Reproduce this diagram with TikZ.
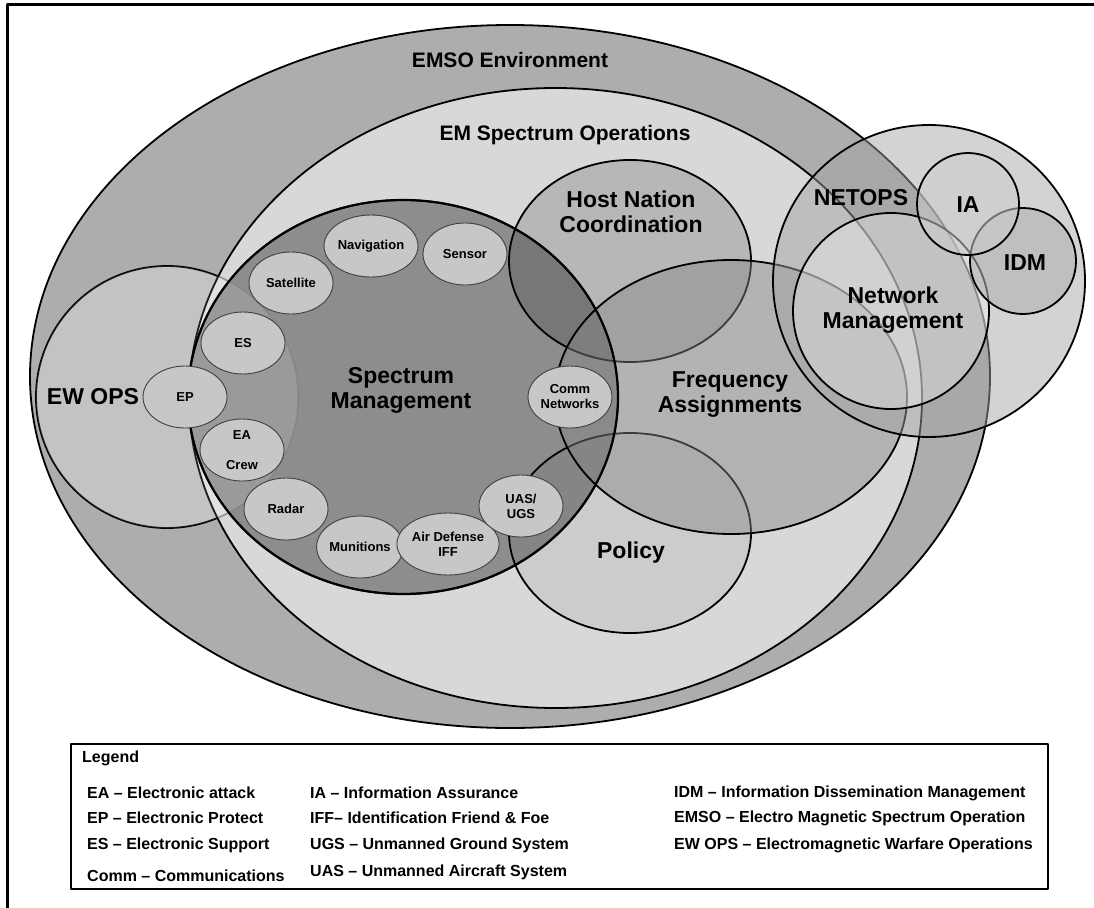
\documentclass[tikz,border=0pt]{standalone}
\usepackage{fontspec}
\setmainfont{Liberation Sans}
\usetikzlibrary{shapes.geometric}
\definecolor{ringgray}{gray}{0.68}
\definecolor{ewgray}{gray}{0.735}
\definecolor{pillgray}{gray}{0.78}

\begin{document}
\begin{tikzpicture}[
	x=1pt, y=-1pt,
	line join=round,
	zone/.style={draw=black, line width=1.8pt},
	pill/.style={ellipse, draw=black!75, line width=0.9pt, fill=pillgray,
		minimum width=84pt, minimum height=62pt, inner sep=0pt, align=center,
		font=\fontsize{13}{15}\selectfont\bfseries},
	biglabel/.style={font=\fontsize{23}{25}\selectfont\bfseries, align=center, inner sep=0pt},
	toplabel/.style={font=\fontsize{21}{24}\selectfont\bfseries, inner sep=0pt},
	legendtext/.style={font=\fontsize{16}{18}\selectfont\bfseries, anchor=west, inner sep=0pt}
]
	\useasboundingbox (0,0) rectangle (1094,907);
	% page frame, cut off at right and bottom
	\draw[line width=3pt] (7,930) -- (7,5) -- (1120,5);

	% outer zones
	\draw[zone, fill=ringgray] (510,376.5) ellipse [x radius=480pt, y radius=351.5pt];
	\draw[zone, fill=ewgray] (167,397) circle [radius=131pt];
	\draw[zone, fill=black!4, fill opacity=0.6] (555.5,398) ellipse [x radius=366.5pt, y radius=310pt];
	\draw[zone, fill=black!50, fill opacity=0.85] (403,397) ellipse [x radius=215pt, y radius=197pt];
	\fill[white, fill opacity=0.12] (167,397) circle [radius=131pt]; % EW OPS shows through
	% inner zones
	\draw[zone, fill=black, fill opacity=0.15] (630,261) ellipse [x radius=121pt, y radius=101pt];
	\draw[zone, fill=black, fill opacity=0.05] (630,533) ellipse [x radius=121pt, y radius=100pt];
	\draw[zone, fill=black!47, fill opacity=0.45] (731,397) ellipse [x radius=176pt, y radius=137pt];
	\draw[zone, line width=2.2pt] (403,397) ellipse [x radius=215pt, y radius=197pt];
	% netops group
	\draw[zone, fill=black!36, fill opacity=0.48] (929,281) circle [radius=156pt];
	\draw[zone, fill=black!4, fill opacity=0.35] (891,311) circle [radius=98pt];
	\draw[zone, fill=black!31, fill opacity=0.57] (1023,261) circle [radius=53pt];
	\draw[zone, fill=black!20, fill opacity=0.54] (968,204) circle [radius=51pt];

	% spectrum users round the rim
	\foreach \name/\px/\py/\txt in {
		nav/371/246/Navigation, sens/465/254/Sensor, sat/291/283/Satellite,
		es/243/343/ES, ep/185/397/EP, eacrew/242/450/{EA\\[15pt]Crew},
		radar/286/509/Radar, mun/360/547/Munitions, airdef/448/544/{Air Defense\\IFF},
		uas/521/506/{UAS/\\UGS}, comm/570/397/{Comm\\Networks}}
		\node[pill] (\name) at (\px,\py) {\txt};

	% zone labels
	\node[toplabel] (emsolbl) at (510,60) {EMSO Environment};
	\node[toplabel] (emsoopslbl) at (565,135) {EM Spectrum Operations};
	\node[biglabel] (smlbl) at (401,390) {Spectrum\\Management};
	\node[biglabel] (ewlbl) at (93,397) {EW OPS};
	\node[biglabel] (hnclbl) at (631,212) {Host Nation\\Coordination};
	\node[biglabel] (falbl) at (730,395) {Frequency\\Assignments};
	\node[biglabel] (pollbl) at (631,553) {Policy};
	\node[biglabel] (netlbl) at (861,198) {NETOPS};
	\node[biglabel] (ialbl) at (968,205) {IA};
	\node[biglabel] (idmlbl) at (1025,263) {IDM};
	\node[biglabel] (nmlbl) at (893,310) {Network\\Management};

	% legend
	\node[draw=black, line width=1.6pt, anchor=north west, minimum width=977pt,
		minimum height=145pt, inner sep=0pt] (legendbox) at (70,743) {};
	\node[legendtext] (legendhead) at (82,758) {Legend};
	\foreach \py/\txt [count=\i] in {793/{EA -- Electronic attack}, 818/{EP -- Electronic Protect},
		845/{ES -- Electronic Support}, 876/{Comm -- Communications}}
		\node[legendtext] (abbra\i) at (87,\py) {\txt};
	\foreach \py/\txt [count=\i] in {793/{IA -- Information Assurance}, 818/{IFF-- Identification Friend \& Foe},
		845/{UGS -- Unmanned Ground System}, 872/{UAS -- Unmanned Aircraft System}}
		\node[legendtext] (abbrb\i) at (310,\py) {\txt};
	\foreach \py/\txt [count=\i] in {793/{IDM -- Information Dissemination Management},
		818/{EMSO -- Electro Magnetic Spectrum Operation}, 845/{EW OPS -- Electromagnetic Warfare Operations}}
		\node[legendtext] (abbrc\i) at (674,\py) {\txt};
\end{tikzpicture}
\end{document}
